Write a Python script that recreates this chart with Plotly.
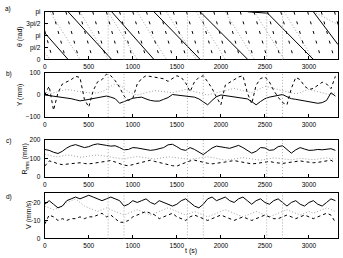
import math
import plotly.graph_objects as go

PI = math.pi
W, H = 343, 258

# ---------------- data ----------------
vlines_t = [720, 900, 1620, 1800, 2520, 2700]
x_ticks = [0, 500, 1000, 1500, 2000, 2500, 3000]

# panel a: theta (rad), sawtooth segments (None separates wraps)
theta_solid_t = [0, 265, None, 265, 760, None, 760, 1240, None, 1240, 1765, None,
                 1765, 2305, None, 2305, 2530, 3050, None, 3050, 3330]
theta_solid = [3.5, 0, None, 2*PI, 0, None, 2*PI, 0, None, 2*PI, 0, None,
               2*PI, 0, None, 2*PI, 6.1, 0, None, 2*PI, 1.96]

theta_dash_resets = [0, 90, 240, 390, 545, 700, 850, 1000, 1155, 1310, 1460, 1610,
                     1765, 1920, 2070, 2220, 2375, 2530, 2680, 2830, 2985, 3140,
                     3290, 3330]
theta_dash_start = 3.8
theta_dash_end = 4.6

theta_dot_resets = [0, 60, 400, 720, 1050, 1380, 1720, 2050, 2380, 2720, 3050, 3330]
theta_dot_start = 0.9
theta_dot_end = 4.6

# panel b: Y (mm), sampled every 50 s
y_solid = [0, -3, -5, -8, -10, -12, -17, -22, -27, -24, -20, -15, -10, -8, -5, -10,
           -17, -38, -30, -22, -15, -12, -10, -18, -25, -28, -28, -20, -12, 2, 0, -3,
           -5, -8, -10, -18, -32, -45, -25, -8, 0, -3, -5, -8, -10, -14, -18, -30,
           -45, -30, -17, -10, -5, -2, 2, -8, -17, -20, -24, -28, -32, -35, -38, -35,
           -25, 10, -5]
y_dash = [0, 40, -70, 10, 50, 60, 70, 85, 80, -20, -55, 20, 60, 70, 95, 88, 65, 35,
          -5, -25, -15, 50, 75, 88, 85, 80, 78, 74, 62, 75, 88, 80, 55, 15, 60, 80,
          88, 60, 30, -10, -45, 45, 58, 70, 82, 88, 10, -40, 45, 75, 82, 60, 20, -10,
          -35, -45, 30, 80, 70, 40, 25, 30, 45, 58, 50, 29, 85]
y_dot = [0, 5, 10, 15, 20, 25, 22, 18, 15, 12, 10, 8, 10, 15, 25, 40, 50, 45, 30, 15,
         5, 0, 5, 10, 15, 20, 18, 15, 12, 10, 15, 20, 25, 20, 15, 10, 5, 0, 5, 10, 15,
         20, 25, 30, 25, 20, 15, 10, 20, 30, 40, 35, 30, 25, 20, 15, 10, 5, 10, 20, 25,
         20, 15, 10, 5, 0, 10]

# panel c: R_rms (mm)
r_solid = [150, 145, 135, 128, 140, 158, 170, 176, 168, 160, 165, 175, 180, 178, 172,
           168, 170, 160, 148, 150, 160, 158, 155, 150, 145, 148, 152, 160, 175, 178,
           165, 150, 145, 160, 150, 135, 122, 140, 158, 168, 166, 160, 156, 165, 172,
           160, 145, 130, 140, 160, 158, 145, 148, 165, 170, 150, 130, 148, 160, 152,
           145, 146, 150, 148, 152, 154, 145]
r_dash = [60, 88, 82, 72, 68, 70, 72, 75, 78, 74, 72, 75, 78, 80, 85, 90, 82, 72, 65,
          62, 68, 75, 82, 88, 92, 85, 78, 72, 68, 62, 60, 70, 80, 88, 92, 85, 80, 75,
          72, 74, 78, 82, 86, 90, 85, 80, 75, 72, 74, 78, 82, 85, 80, 76, 74, 78, 82,
          86, 88, 84, 80, 78, 80, 84, 88, 92, 76]
r_dot = [125, 118, 112, 110, 115, 120, 118, 112, 108, 110, 115, 118, 120, 116, 112,
         110, 106, 100, 98, 104, 110, 112, 108, 104, 100, 98, 102, 106, 110, 108, 104,
         100, 98, 96, 100, 104, 108, 110, 106, 100, 96, 92, 95, 100, 104, 106, 102, 98,
         94, 92, 96, 100, 104, 102, 98, 96, 94, 98, 102, 100, 96, 94, 98, 102, 104, 100, 98]

# panel d: V (mm/s)
v_solid = [19, 21, 19, 17, 18, 21, 22, 23, 22, 23, 24, 23, 22, 21, 22, 23, 22, 21, 18,
           19, 21, 20, 21, 22, 20, 19, 21, 20, 19, 18, 19, 21, 22, 20, 18, 17, 19, 22,
           23, 21, 22, 23, 21, 20, 22, 23, 21, 19, 21, 22, 20, 19, 21, 22, 20, 18, 20,
           21, 19, 18, 20, 21, 19, 18, 20, 22, 21]
v_dash = [8, 13, 12, 10, 11, 10, 11, 11, 12, 11, 12, 12, 13, 14, 12, 13, 11, 9, 9, 10,
          12, 13, 14, 15, 14, 13, 11, 12, 13, 14, 12, 11, 10, 12, 13, 12, 11, 10, 11,
          12, 13, 12, 11, 10, 11, 12, 11, 10, 11, 12, 13, 12, 11, 11, 12, 13, 12, 11,
          12, 13, 12, 11, 12, 13, 14, 13, 9]
v_dot = [18, 17, 16, 17, 18, 20, 21, 22, 20, 18, 17, 16, 15, 16, 17, 16, 15, 14, 13, 14,
         15, 16, 15, 14, 13, 14, 15, 16, 17, 16, 15, 14, 13, 14, 15, 14, 13, 12, 13, 14,
         15, 16, 15, 14, 13, 12, 13, 14, 15, 14, 13, 12, 13, 14, 15, 16, 15, 14, 13, 14,
         15, 14, 15, 16, 17, 16, 15]

SAMPLE_DT = 50


def saw(resets, start, end):
    ts, ys = [], []
    n = len(resets) - 1
    for i in range(n):
        a, b = resets[i], resets[i + 1]
        y0 = start if i == 0 else 2 * PI
        y1 = end if i == n - 1 else 0
        ts += [a, b, None]
        ys += [y0, y1, None]
    return ts, ys


def tgrid(series):
    return [SAMPLE_DT * i for i in range(len(series))]


# ---------------- figure ----------------
FONT = "Liberation Sans"
FS = 6.5
fig = go.Figure()

SOLID = dict(color="black", width=1)
DASH = dict(color="black", width=1, dash="3px,3px")
DASH_A = dict(color="black", width=1, dash="3px,7px")
DOT = dict(color="#a0a0a0", width=1, dash="1px,2px")

# pixel boxes (top, bottom)
boxes = [(8, 57), (71, 116), (140, 178), (194, 241)]
x_left, x_right = 43, 338

panels = [
    ("y", [(theta_dot_resets, theta_dot_start, theta_dot_end, DOT, "saw"),
           (theta_dash_resets, theta_dash_start, theta_dash_end, DASH_A, "saw"),
           ((theta_solid_t, theta_solid), None, None, SOLID, "xy")]),
    ("y2", [(y_dot, None, None, DOT, "s"), (y_dash, None, None, DASH, "s"),
            (y_solid, None, None, SOLID, "s")]),
    ("y3", [(r_dot, None, None, DOT, "s"), (r_dash, None, None, DASH, "s"),
            (r_solid, None, None, SOLID, "s")]),
    ("y4", [(v_dot, None, None, DOT, "s"), (v_dash, None, None, DASH, "s"),
            (v_solid, None, None, SOLID, "s")]),
]

for i, (yname, traces) in enumerate(panels):
    xname = "x" if i == 0 else f"x{i+1}"
    for data, s, e, style, kind in traces:
        if kind == "saw":
            xs, ys = saw(data, s, e)
        elif kind == "xy":
            xs, ys = data
        else:
            xs, ys = tgrid(data), data
        fig.add_trace(go.Scatter(x=xs, y=ys, mode="lines", line=style,
                                 xaxis=xname, yaxis=yname, showlegend=False,
                                 connectgaps=False, hoverinfo="skip"))

yranges = [[0, 2 * PI], [-100, 100], [0, 200], [0, 25.4]]
ytickvals = [[0, PI / 2, PI, 3 * PI / 2, 2 * PI], [-100, 0, 100], [0, 100, 200], [0, 10, 20]]
yticktext = [["0", "pi/2", "pi", "3pi/2", "pi"], ["\u2212100", "0", "100"],
             ["0", "100", "200"], ["0", "10", "20"]]

layout = dict(width=W, height=H, margin=dict(l=0, r=0, t=0, b=0),
              paper_bgcolor="white", plot_bgcolor="white",
              font=dict(family=FONT, size=FS, color="black"), showlegend=False)

common_axis = dict(showline=True, linecolor="black", linewidth=1, mirror=True,
                   ticks="inside", ticklen=3, tickcolor="black", tickwidth=1,
                   showgrid=False, zeroline=False, tickfont=dict(family=FONT, size=FS))

for i, (top, bot) in enumerate(boxes):
    sx = "" if i == 0 else str(i + 1)
    layout["xaxis" + sx] = dict(common_axis, domain=[x_left / W, x_right / W],
                                range=[0, 3330], tickvals=x_ticks,
                                anchor="y" + sx, ticklabelstandoff=1)
    layout["yaxis" + sx] = dict(common_axis, domain=[1 - bot / H, 1 - top / H],
                                range=yranges[i], tickvals=ytickvals[i],
                                ticktext=yticktext[i], anchor="x" + sx,
                                ticklabelstandoff=2)

shapes = []
for i in range(4):
    sx = "" if i == 0 else str(i + 1)
    for v in vlines_t:
        shapes.append(dict(type="line", xref="x" + sx, yref="y" + sx + " domain",
                           x0=v, x1=v, y0=0, y1=1,
                           line=dict(color="#a8a8a8", width=1, dash="1px,2px")))
layout["shapes"] = shapes

ann = []
ylabels = [("\u03b8 (rad)", 18, 33), ("Y (mm)", 19, 93),
           ("R<sub>rms</sub> (mm)", 23, 159), ("V (mm/s)", 27, 217)]
for text, px, py in ylabels:
    ann.append(dict(text=text, x=px / W, y=1 - py / H, xref="paper", yref="paper",
                    textangle=-90, showarrow=False, xanchor="center", yanchor="middle",
                    font=dict(family=FONT, size=FS + 0.5)))
for text, px, py in [("a)", 6, 5), ("b)", 7, 72), ("c)", 7, 141), ("d)", 7, 198)]:
    ann.append(dict(text=text, x=px / W, y=1 - py / H, xref="paper", yref="paper",
                    showarrow=False, xanchor="center", yanchor="middle",
                    font=dict(family=FONT, size=FS)))
ann.append(dict(text="t (s)", x=190 / W, y=1 - 253.5 / H,
                xref="paper", yref="paper", showarrow=False,
                xanchor="center", yanchor="middle", font=dict(family=FONT, size=FS + 0.5)))
layout["annotations"] = ann

fig.update_layout(**layout)
fig.write_html("out.html")
